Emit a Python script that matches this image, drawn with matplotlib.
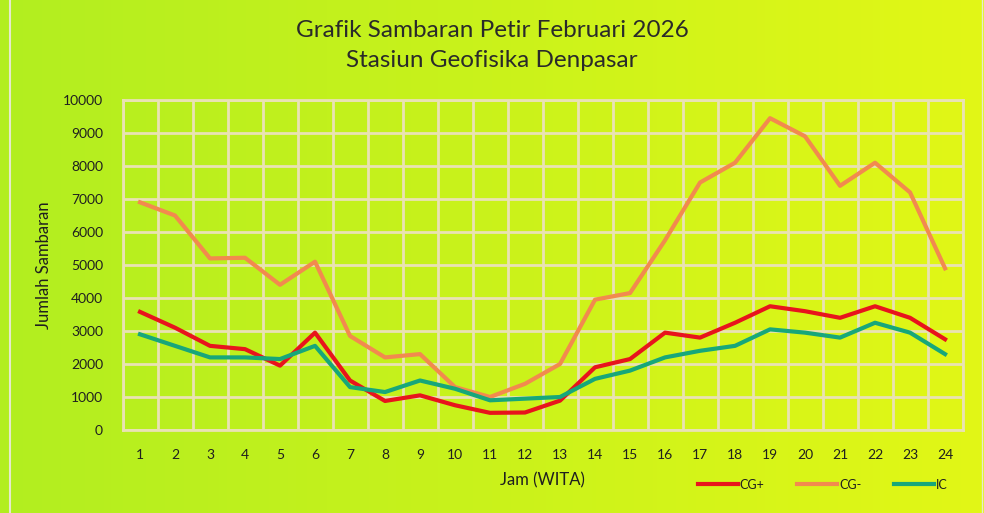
import numpy as np
import matplotlib.pyplot as plt
from matplotlib.lines import Line2D

plt.rcParams['font.family'] = ['Lato', 'DejaVu Sans']

# Data
jam = list(range(1, 25))
cg_plus = [3580, 3100, 2550, 2450, 1950, 2950, 1500, 880, 1050, 750, 520, 530,
           890, 1900, 2150, 2950, 2800, 3250, 3750, 3600, 3400, 3750, 3400, 2750]
cg_minus = [6900, 6500, 5200, 5220, 4400, 5100, 2850, 2200, 2300, 1300, 1000, 1400,
            2000, 3950, 4150, 5750, 7500, 8100, 9450, 8900, 7400, 8100, 7200, 4900]
ic = [2900, 2550, 2200, 2200, 2150, 2550, 1300, 1150, 1500, 1250, 900, 950,
      1000, 1550, 1800, 2200, 2400, 2550, 3050, 2950, 2800, 3250, 2950, 2300]

series_names = ['CG+', 'CG-', 'IC']
series_colors = ['#e8141c', '#f28a4e', '#17a77a']
text_col = '#1f1f1f'

fig = plt.figure(figsize=(9.84, 5.13), dpi=100)

# background gradient (lime on the left, yellow on the right)
bg = fig.add_axes([0, 0, 1, 1], zorder=0)
left_c = np.array([178, 238, 32]) / 255
right_c = np.array([226, 247, 22]) / 255
t = np.linspace(0, 1, 256)
grad = left_c[None, :] * (1 - t[:, None]) + right_c[None, :] * t[:, None]
bg.imshow(grad[None, :, :], aspect='auto', extent=[0, 1, 0, 1])
bg.set_xlim(0, 1)
bg.set_ylim(0, 1)
bg.axis('off')
# faint outer frame lines on the left and right
bg.axvline(0.0105, color='#e6e9cc', linewidth=1.5)
bg.axvline(0.9975, color='#e6e9cc', linewidth=1.0)

ax = fig.add_axes([0.1245, 0.1618, 0.8537, 0.6432], zorder=1)
ax.set_facecolor('none')

for vals, name, col in zip([cg_plus, cg_minus, ic], series_names, series_colors):
    ax.plot(jam, vals, color=col, linewidth=3, label=name, zorder=3,
            solid_joinstyle='round')

ax.set_xlim(0.5, 24.5)
ax.set_ylim(0, 10000)
ax.set_yticks(np.arange(0, 10001, 1000))
ax.set_xticks(jam)
ax.set_xticks(np.arange(0.5, 24.6, 1), minor=True)
ax.grid(True, which='minor', axis='x', color='#e9e2b4', linewidth=2)
ax.grid(True, which='major', axis='y', color='#e9e2b4', linewidth=2)
ax.set_axisbelow(True)
ax.tick_params(which='both', length=0)
ax.tick_params(axis='x', pad=14, labelsize=10, colors=text_col)
ax.tick_params(axis='y', pad=14, labelsize=10, colors=text_col)
for s in ax.spines.values():
    s.set_color('#e9e2b4')
    s.set_linewidth(2)

ax.set_ylabel('Jumlah Sambaran', fontsize=12, color=text_col, labelpad=8)
ax.set_xlabel('Jam (WITA)', fontsize=12, color=text_col, labelpad=8)

fig.text(0.5, 0.94, 'Grafik Sambaran Petir Februari 2026', ha='center', va='center',
         fontsize=17.5, color='#2a2a2a')
fig.text(0.5, 0.882, 'Stasiun Geofisika Denpasar', ha='center', va='center',
         fontsize=17.5, color='#2a2a2a')

handles = [Line2D([0], [0], color=c, linewidth=3) for c in series_colors]
fig.legend(handles, series_names, loc='center', bbox_to_anchor=(0.836, 0.055),
           ncol=3, frameon=False, fontsize=9, handlelength=3.2, columnspacing=2.6,
           handletextpad=0.15, labelcolor=text_col)

fig.savefig('out.png', dpi=100)
